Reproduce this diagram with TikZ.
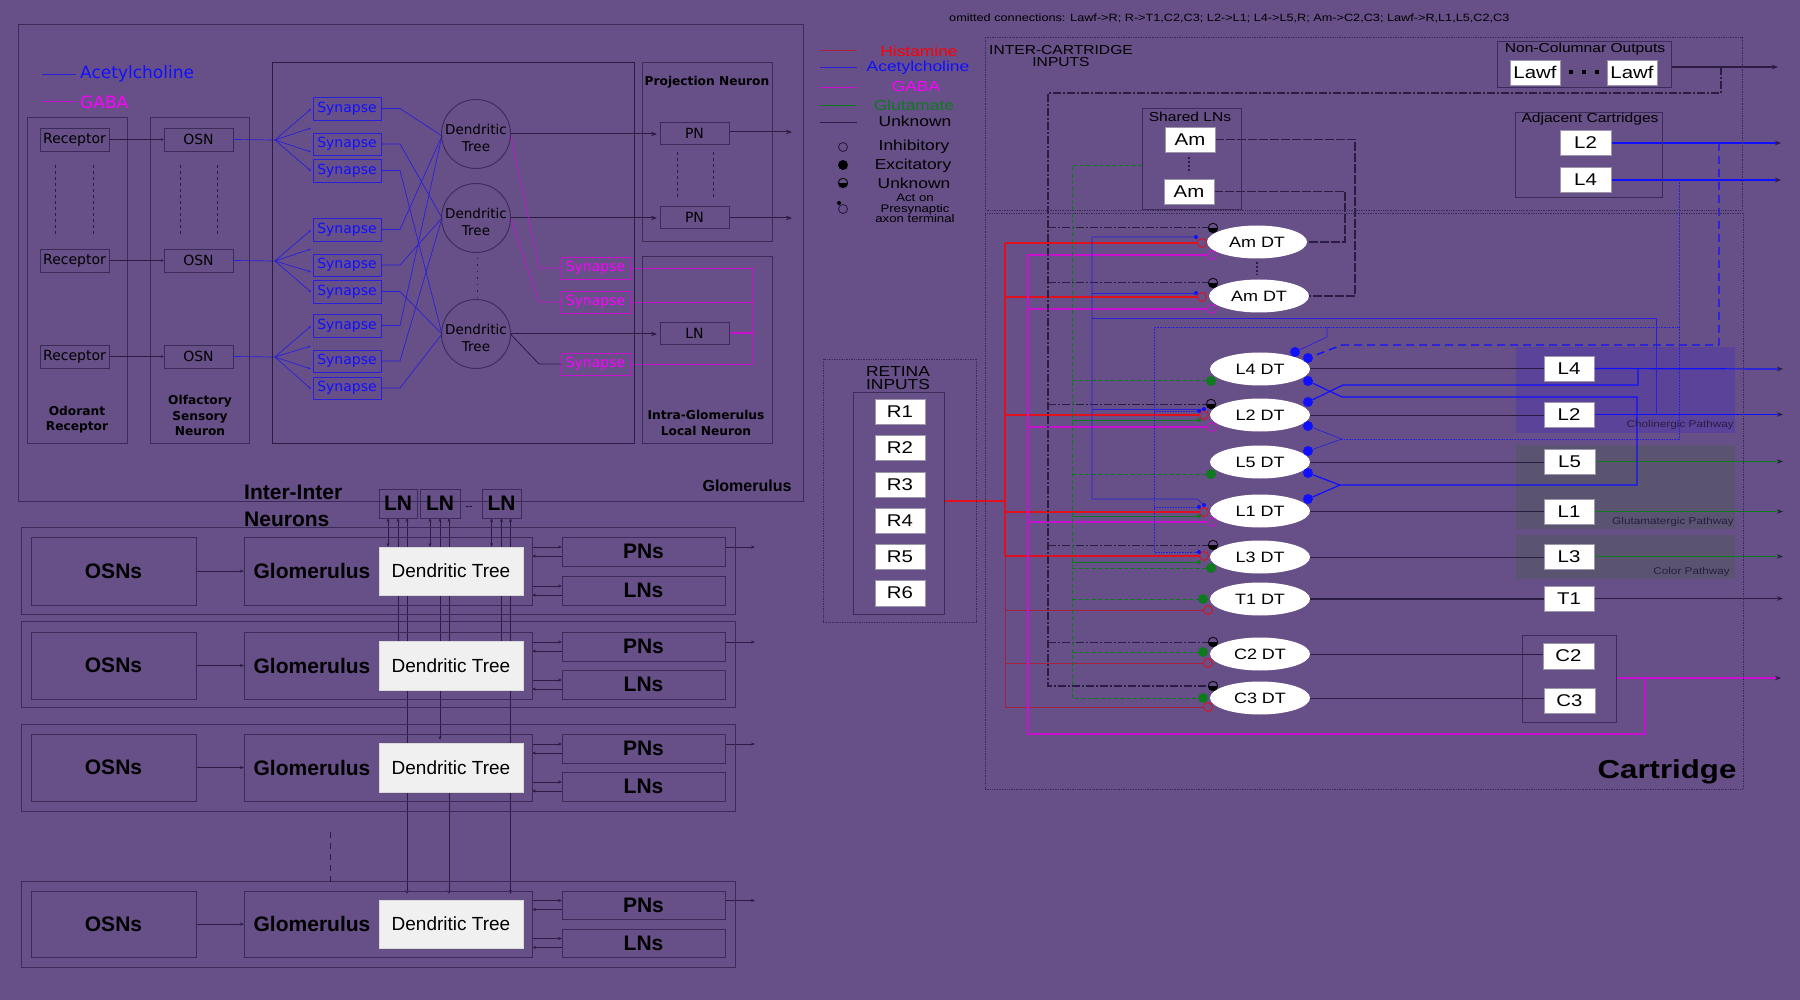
\documentclass[tikz,border=0pt]{standalone}
\usepackage{fontspec}
\setmainfont{Liberation Sans}
\newfontfamily\wide[FakeStretch=1.2]{Liberation Sans}
\newfontfamily\vera{DejaVu Sans}
\usetikzlibrary{arrows.meta,shapes.geometric}
\pgfdeclarelayer{back}\pgfdeclarelayer{mid}\pgfsetlayers{back,mid,main}
\definecolor{bgc}{HTML}{674F88}
\definecolor{framec}{HTML}{3B2B58}
\definecolor{linek}{HTML}{2A1C42}
\definecolor{bluec}{HTML}{2A20D8}
\definecolor{bluet}{HTML}{1010FF}
\definecolor{redc}{HTML}{E0101F}
\definecolor{redd}{HTML}{A8203F}
\definecolor{magc}{HTML}{C812D0}
\definecolor{magt}{HTML}{FF00FF}
\definecolor{gree}{HTML}{0E7A1E}
\definecolor{chol}{HTML}{5B4399}
\definecolor{glut}{HTML}{5A5470}
\newcommand{\fs}[1]{\fontsize{#1}{#1}\selectfont}
\newcommand{\fsl}[2]{\fontsize{#1}{#2}\selectfont}
\newcommand{\lw}[1]{\raisebox{-1pt}{#1}}
\newcommand{\bx}[7][]{\node[frame,#1,minimum width={(#5-#3)*1pt},minimum height={(#6-#4)*1pt}] (#2) at ({(#3+#5)/2},{(#4+#6)/2}) {#7};}
\tikzset{
 frame/.style={draw=framec,line width=0.9pt,inner sep=0pt,outer sep=0pt},
 dotf/.style={draw=framec,line width=0.7pt,densely dotted,inner sep=0pt,outer sep=0pt},
 whitebox/.style={draw=framec!50,line width=0.5pt,fill=white,text=black,inner sep=0pt,outer sep=0pt,font=\wide\fs{17}},
 glab/.style={inner sep=0pt,text=black,font=\bfseries\fs{21}},
 vbold/.style={inner sep=0pt,text=black,align=center,font=\vera\bfseries\fsl{12.2}{15.5}},
 wlab/.style={inner sep=0pt,text=black,align=center,font=\wide\fs{14.5}},
 lk/.style={draw=linek,line width=0.8pt},
 lkt/.style={draw=linek,line width=1.3pt},
 lb/.style={draw=bluec,line width=0.7pt},
 lbt/.style={draw=bluet,line width=1.2pt},
 lbd/.style={draw=bluec,line width=0.6pt,densely dotted},
 lbdash/.style={draw=bluet,line width=1.4pt,dash pattern=on 8pt off 5pt},
 lm/.style={draw=magc,line width=0.7pt},
 lmt/.style={draw=magc,line width=1.3pt},
 lr/.style={draw=redc,line width=1.5pt},
 lrd/.style={draw=redd,line width=0.8pt},
 lg/.style={draw=gree,line width=0.8pt},
 lgd/.style={draw=gree,line width=1pt,dash pattern=on 4pt off 2.5pt},
 kdd/.style={draw=linek,line width=1.2pt,dash pattern=on 8pt off 2pt on 2pt off 2pt},
 kda/.style={draw=linek,line width=1.3pt,dash pattern=on 9pt off 2pt},
 arr/.style={-{Stealth[length=6pt,width=4.5pt,color=linek]}},
 sarr/.style={-{Stealth[length=4pt,width=3pt,color=linek]}},
 barr/.style={-{Stealth[length=3pt,width=2.5pt]}},
 bsarr/.style={{Stealth[length=4pt,width=3pt]}-{Stealth[length=4pt,width=3pt]}},
 tarr/.style={{Stealth[length=4pt,width=3pt]}-},
 dtell/.style={ellipse,fill=white,text=black,inner sep=0pt,outer sep=0pt,minimum width=100pt,minimum height=33pt,font=\wide\fs{15}},
 inh/.style={circle,draw=#1,line width=0.9pt,inner sep=0pt,outer sep=0pt,minimum size=9pt},
 exc/.style={circle,fill=#1,inner sep=0pt,outer sep=0pt,minimum size=10pt},
 esm/.style={circle,fill=#1,inner sep=0pt,outer sep=0pt,minimum size=4pt},
 unkn/.style={circle,draw=black,line width=0.8pt,fill=bgc,inner sep=0pt,outer sep=0pt,minimum size=9.5pt,
   path picture={\fill[black] (path picture bounding box.west) rectangle (path picture bounding box.south east);}},
}
\begin{document}
\begin{tikzpicture}[x=1pt,y=-1pt]
\useasboundingbox (0,0) rectangle (1800,1000);
\begin{pgfonlayer}{back}
\fill[bgc] (0,0) rectangle (1800,1000);
\fill[chol] (1516,347) rectangle (1735,433);
\fill[glut] (1516,445) rectangle (1735,529);
\fill[glut] (1516,535) rectangle (1735,579);
\end{pgfonlayer}

%%% ---------- upper left: glomerulus
\bx{glombox}{18}{24}{803}{501}{}
\node[inner sep=0pt,text=black,font=\bfseries\fs{16}] (glomname) at (747,486) {Glomerulus};
\draw[lb] (42,74) -- (76,74);
\node[inner sep=0pt,anchor=west,text=bluet,font=\vera\fs{17}] (legach) at (80,74) {Acetylcholine};
\draw[lm] (42,101) -- (76,101);
\node[inner sep=0pt,anchor=west,text=magt,font=\vera\fs{17}] (leggaba) at (80,102) {GABA};
\bx{orbox}{27}{117}{127}{443}{}
\bx{osnbox}{150}{117}{249}{443}{}
\bx[draw=linek]{treebox}{272}{62}{634}{443}{}
\bx{pnbox}{642}{62}{772}{241}{}
\bx{lnbox}{642}{256}{772}{443}{}
\node[vbold] (orname) at (77,419.5) {Odorant\\Receptor};
\node[vbold] (osnname) at (200,415.5) {Olfactory\\Sensory\\Neuron};
\node[vbold] (pnname) at (707,82) {Projection Neuron};
\node[vbold] (lnname) at (706,423) {Intra-Glomerulus\\Local Neuron};
\foreach \i/\a/\b in {1/128/151,2/249/272,3/345/368}{
  \bx[font=\vera\fs{14}]{rec\i}{40}{\a}{109}{\b}{Receptor}
  \bx[font=\vera\fs{14}]{osn\i}{164}{\a}{233}{\b}{OSN}
  \draw[lk,barr] (rec\i) -- (osn\i);
}
\foreach \x in {55,93,180,217}{\draw[lk,dashed] (\x,165) -- (\x,237);}
\foreach \x in {677,713}{\draw[lk,dashed] (\x,152) -- (\x,198);}
\bx[font=\vera\fs{14}]{pn1}{660}{122}{729}{144}{PN}
\bx[font=\vera\fs{14}]{pn2}{660}{206}{729}{228}{PN}
\bx[font=\vera\fs{14}]{lnin}{660}{322}{729}{344}{LN}
\foreach \i/\a/\b in {1/97/120,2/133/155,3/159/182,4/218/241,5/254/276,6/280/303,7/314/337,8/350/372,9/377/399}{
  \bx[draw=bluec,text=bluet,font=\vera\fs{14}]{syn\i}{313}{\a}{381}{\b}{Synapse}
}
\foreach \i/\a/\b in {1/257/279,2/291/313,3/353/375}{
  \bx[draw=magc,text=magt,font=\vera\fs{14}]{msyn\i}{561}{\a}{630}{\b}{Synapse}
}
\foreach \i/\y in {1/134,2/218,3/334}{
  \node[circle,frame,minimum size=69pt] (dtree\i) at (476,\y) {};
  \node[inner sep=0pt,align=center,text=black,font=\vera\fsl{13.5}{17}] (dtext\i) at (476,\y+3.5) {Dendritic\\Tree};
}
\draw[linek,line width=1pt,dash pattern=on 1.5pt off 5pt] (477,258) -- (477,298);
\begin{pgfonlayer}{mid}
\foreach \f/\yy/\a/\b/\c/\d in {1/140/109/128/152/171,2/261/230/249/272/292,3/357/326/346/369/389}{
  \coordinate (fan\f) at (275,\yy);
  \draw[lb] (osn\f.east) -- (fan\f);
  \foreach \e in {\a,\b,\c,\d}{\draw[lb,barr] (fan\f) -- (311,\e);}
}
\coordinate (con1) at (442,136);\coordinate (con2) at (442,218);\coordinate (con3) at (442,334);
\foreach \s/\t in {1/1,2/2,3/3,4/1,5/2,6/3,7/1,8/2,9/3}{
  \draw[lb] (syn\s.east) -- ++(19,0) -- (con\t);
}
\draw[lk,line width=1pt,arr] (dtree1.east) -- ([xshift=-3pt]pn1.west |- dtree1.east);
\draw[lk,line width=1pt,arr] (dtree2.east) -- ([xshift=-3pt]pn2.west |- dtree2.east);
\draw[lk,line width=1pt,arr] (dtree3.east) -- ([xshift=-3pt]lnin.west |- dtree3.east);
\coordinate (pne1) at (792,132);\coordinate (pne2) at (792,218);
\draw[lk,line width=1pt,arr] (pn1.east |- pne1) -- (pne1);
\draw[lk,line width=1pt,arr] (pn2.east |- pne2) -- (pne2);
\draw[lm] (dtree1.east) -- ([xshift=-22pt]msyn1.west) -- (msyn1.west);
\draw[lm] (dtree2.east) -- ([xshift=-22pt]msyn2.west) -- (msyn2.west);
\draw[lk] (dtree3.east) -- ([xshift=-22pt]msyn3.west) -- (msyn3.west);
\coordinate (mbus) at (753,0);
\foreach \i in {1,2,3}{\draw[lm] (msyn\i.east) -- (mbus |- msyn\i.east);}
\draw[lm] (mbus |- msyn1.east) -- (mbus |- msyn3.east);
\draw[lmt] (lnin.east) -- (mbus |- lnin.east);
\end{pgfonlayer}

%%% ---------- lower left: rows
\node[glab,anchor=west] (ini1) at (244,492) {Inter-Inter};
\node[glab,anchor=west] (ini2) at (244,519) {Neurons};
\bx[font=\bfseries\fs{21},text=black]{lnt1}{379}{489}{417}{518}{LN}
\bx[font=\bfseries\fs{21},text=black]{lnt2}{420}{489}{460}{518}{LN}
\bx[font=\bfseries\fs{21},text=black]{lnt3}{482}{489}{521}{518}{LN}
\node[inner sep=0pt,text=black,font=\fs{10}] (lndots) at (469,508) {{-}{-}};
\foreach \r/\ot/\ob/\it/\ib/\dt/\db/\pt/\pb/\lt/\lb in {1/527/614/537/605/547/595/537/566/576/605,2/621/707/632/699/641/690/632/661/670/699,3/724/811/734/801/743/792/734/763/772/801,4/881/967/891/957/900/948/891/919/929/957}{
  \bx{outer\r}{21}{\ot}{735}{\ob}{}
  \bx[font=\bfseries\fs{21},text=black]{osns\r}{31}{\it}{196}{\ib}{\lw{OSNs}}
  \bx{glom\r}{244}{\it}{532}{\ib}{}
  \node[glab] (gl\r) at (312,{(\it+\ib)/2}) {Glomerulus};
  \bx[fill=black!6,draw=white!85!black,text=black,font=\fs{19}]{dtl\r}{379}{\dt}{523}{\db}{\lw{Dendritic Tree}}
  \bx[font=\bfseries\fs{21},text=black]{pns\r}{562}{\pt}{725}{\pb}{\lw{PNs}}
  \bx[font=\bfseries\fs{21},text=black]{lns\r}{562}{\lt}{725}{\lb}{\lw{LNs}}
  \coordinate (pa\r) at ([yshift=4.5pt]pns\r.west);
  \coordinate (pb\r) at ([yshift=-4.5pt]pns\r.west);
  \coordinate (la\r) at ([yshift=4.5pt]lns\r.west);
  \coordinate (lb\r) at ([yshift=-4.5pt]lns\r.west);
  \begin{pgfonlayer}{mid}
  \draw[lk,sarr] (osns\r) -- (glom\r);
  \draw[lk,sarr] (glom\r.east |- pa\r) -- (pa\r);
  \draw[lk,sarr] (pb\r) -- (glom\r.east |- pb\r);
  \draw[lk,sarr] (glom\r.east |- la\r) -- (la\r);
  \draw[lk,sarr] (lb\r) -- (glom\r.east |- lb\r);
  \draw[lk,sarr] (pns\r.east |- pa\r) -- ++(30,0);
  \end{pgfonlayer}
}
\draw[linek,line width=1pt,dash pattern=on 6pt off 5pt] (330,832) -- (330,884);
\begin{pgfonlayer}{mid}
\foreach \l in {1,2,3}{
  \coordinate (va\l) at ([xshift=-10pt]lnt\l.south);
  \coordinate (vb\l) at (lnt\l.south);
  \coordinate (vc\l) at ([xshift=9pt]lnt\l.south);
  \draw[lk,bsarr] (va\l) -- (va\l |- dtl1.north);
}
\foreach \l in {1,3}{
  \draw[lk,tarr] (vb\l) -- (vb\l |- dtl2.north);
  \draw[lk,bsarr,shorten >=6pt] (vc\l) -- (vc\l |- dtl4.north);
}
\draw[lk,bsarr,shorten >=3pt] (vb2) -- (vb2 |- dtl3.north);
\draw[lk,tarr] (vc2) -- (vc2 |- dtl2.north);
\draw[lk,sarr,shorten >=6pt] (vc2 |- dtl3.south) -- (vc2 |- dtl4.north);
\end{pgfonlayer}

%%% ---------- top text and legend
\node[inner sep=0pt,anchor=west,text=black,font=\wide\fs{10.57}] (omit) at (949,18.5) {omitted connections: Lawf->R; R->T1,C2,C3; L2->L1; L4->L5,R; Am->C2,C3; Lawf->R,L1,L5,C2,C3};
\draw[draw=redd,line width=0.8pt] (820,50) -- (857,50);
\draw[lb] (820,67) -- (857,67);
\draw[lm] (820,87) -- (857,87);
\draw[lg] (820,105) -- (857,105);
\draw[lk] (820,122) -- (857,122);
\node[wlab,text=red] (tHis) at (919,51) {Histamine};
\node[wlab,text=bluet] (tAch) at (918,68) {Acetylcholine};
\node[wlab,text=magt] (tGab) at (916,87) {GABA};
\node[wlab,text=gree] (tGlu) at (914,105) {Glutamate};
\node[wlab] (tUnk) at (915,121) {Unknown};
\node[inh=linek] (legi) at (843,147) {};
\node[exc=black] (lege) at (843,165) {};
\node[unkn] (legu) at (843,183) {};
\node[inh=linek] (lega) at (843,209) {};
\node[esm=black] (legb) at (839,203) {};
\node[wlab] (tInh) at (914,147) {Inhibitory};
\node[wlab] (tExc) at (913,166) {Excitatory};
\node[wlab] (tUn2) at (914,183) {Unknown};
\node[wlab,font=\wide\fsl{11}{10.5}] (tAct) at (915,208.5) {Act on\\Presynaptic\\axon terminal};

%%% ---------- retina
\bx[dotf]{retout}{823}{359}{976}{622}{}
\node[inner sep=0pt,align=center,text=black,font=\wide\fsl{14.5}{13}] (rettxt) at (898,378) {RETINA\\INPUTS};
\bx{retina}{853}{392}{944}{614}{}
\foreach \i/\a/\b in {1/399/424,2/435/460,3/472/497,4/508/533,5/544/569,6/580/606}{
  \bx[whitebox]{R\i}{875}{\a}{925}{\b}{R\i}
}

%%% ---------- inter-cartridge
\bx[dotf]{interbox}{985}{37}{1742}{210}{}
\node[inner sep=0pt,align=center,text=black,font=\wide\fsl{13}{12.5}] (intertxt) at (1061,56) {INTER-CARTRIDGE\\INPUTS};
\bx{sharedlns}{1142}{108}{1241}{209}{}
\node[inner sep=0pt,text=black,font=\wide\fs{13}] (sharedtxt) at (1190,117) {Shared LNs};
\bx[whitebox]{am1}{1165}{127}{1215}{152}{Am}
\bx[whitebox]{am2}{1164}{179}{1214}{204}{Am}
\draw[linek,line width=2pt,dotted] (1189,157) -- (1189,173);
\bx{lawfbox}{1497}{41}{1671}{87}{}
\node[inner sep=0pt,text=black,font=\wide\fs{13}] (lawftxt) at (1585,49) {Non-Columnar Outputs};
\bx[whitebox]{lawf1}{1510}{60}{1560}{85}{Lawf}
\bx[whitebox]{lawf2}{1607}{60}{1657}{85}{Lawf}
\foreach \x in {1571,1584,1597}{\fill[black] (\x-2,70) rectangle (\x+2,74);}
\bx{adjbox}{1515}{112}{1662}{197}{}
\node[inner sep=0pt,text=black,font=\wide\fs{13}] (adjtxt) at (1590,119.5) {Adjacent Cartridges};
\bx[whitebox]{adj2}{1560}{130}{1611}{155}{L2}
\bx[whitebox]{adj4}{1560}{167}{1611}{192}{L4}

%%% ---------- cartridge
\bx[dotf]{cartbox}{985}{213}{1743}{789}{}
\node[inner sep=0pt,text=black,font=\wide\bfseries\fs{26}] (carttxt) at (1667,772) {Cartridge};
\node[dtell] (dam1) at (1257,242) {Am DT};
\node[dtell] (dam2) at (1259,296) {Am DT};
\draw[linek,line width=2pt,dotted] (1257,262) -- (1257,275);
\node[dtell] (dL4) at (1260,369) {L4 DT};
\node[dtell] (dL2) at (1260,415) {L2 DT};
\node[dtell] (dL5) at (1260,462) {L5 DT};
\node[dtell] (dL1) at (1260,511) {L1 DT};
\node[dtell] (dL3) at (1260,557) {L3 DT};
\node[dtell] (dT1) at (1260,599) {T1 DT};
\node[dtell] (dC2) at (1260,654) {C2 DT};
\node[dtell] (dC3) at (1260,698) {C3 DT};
\bx[whitebox]{oL4}{1544}{356}{1594}{381}{L4}
\bx[whitebox]{oL2}{1544}{402}{1594}{427}{L2}
\bx[whitebox]{oL5}{1544}{449}{1595}{474}{L5}
\bx[whitebox]{oL1}{1544}{499}{1594}{524}{L1}
\bx[whitebox]{oL3}{1544}{544}{1594}{569}{L3}
\bx[whitebox]{oT1}{1544}{586}{1594}{611}{T1}
\bx{cbox}{1522}{635}{1616}{722}{}
\bx[whitebox]{oC2}{1543}{643}{1594}{669}{C2}
\bx[whitebox]{oC3}{1544}{688}{1595}{713}{C3}
\node[inner sep=0pt,anchor=east,text=linek,font=\wide\fs{9.8}] (pch) at (1734,425) {Cholinergic Pathway};
\node[inner sep=0pt,anchor=east,text=linek,font=\wide\fs{9.8}] (pgl) at (1734,522) {Glutamatergic Pathway};
\node[inner sep=0pt,anchor=east,text=linek,font=\wide\fs{9.8}] (pco) at (1730,572) {Color Pathway};

%%% markers
\foreach \n/\x/\y in {uA/1213/228,uB/1213/283,uL2/1211/404,uL3/1213/545,uC2/1213/642,uC3/1213/686}{\node[unkn] (\n) at (\x,\y) {};}
\foreach \n/\x/\y in {rA/1202/243,rB/1202/297,rL2/1204/415,rL1/1204/512,rL3/1204/556,rT1/1208/610,rC2/1208/663,rC3/1208/707}{\node[inh=redc] (\n) at (\x,\y) {};}
\foreach \n/\x/\y in {mA/1212/255,mB/1212/309,mL2/1212/427,mL1/1212/522}{\node[inh=magc] (\n) at (\x,\y) {};}
\foreach \n/\x/\y in {gL4/1211/381,gL5/1211/474,gL3/1211/568,gT1/1203/599,gC2/1203/652,gC3/1203/698}{\node[exc=gree] (\n) at (\x,\y) {};}
\foreach \n/\x/\y in {sgL2/1199/420,sgL1/1199/516,sgL3/1199/562}{\node[esm=gree] (\n) at (\x,\y) {};}
\foreach \n/\x/\y in {sbA/1196/237,sbB/1196/293,sbL2/1204/409,sdL2/1199/411,sbL1/1204/505,sdL1/1199/507,sdL3/1199/552}{\node[esm=bluet] (\n) at (\x,\y) {};}
\foreach \n/\x/\y in {b1/1295/352,b2/1308/358,b3/1308/381,b4/1308/402,b5/1308/426,b6/1308/451,b7/1308/473,b8/1308/499}{\node[exc=bluet] (\n) at (\x,\y) {};}

\begin{pgfonlayer}{mid}
% outputs
\foreach \c in {L4,L2,L5,L1,L3,C2,C3}{\draw[lk,line width=1pt] (d\c.east) -- (d\c.east -| o\c.west);}
\draw[lkt] (dT1.east) -- (dT1.east -| oT1.west);
\coordinate (eL4) at (1783,369);\coordinate (eL2) at (1783,414.5);\coordinate (eL5) at (1783,461.5);
\coordinate (eL1) at (1783,511.5);\coordinate (eL3) at (1783,556.5);\coordinate (eT1) at (1783,598.5);
\coordinate (eC) at (1781,678);
\draw[lbt,arr] (oL4.east) -- (eL4);
\draw[lbt,arr] (oL2.east) -- (eL2);
\draw[lg,arr] (oL5.east) -- (eL5);
\draw[lg,arr] (oL1.east) -- (eL1);
\draw[lg,line width=1.1pt,arr] (oL3.east) -- (eL3);
\draw[lkt,arr] (oT1.east) -- (eT1);
\coordinate (eadj2) at (1781,143);\coordinate (eadj4) at (1781,180);\coordinate (elawf) at (1778,67);
\draw[lbt,arr] (adj2.east |- eadj2) -- (eadj2);
\draw[lbt,arr] (adj4.east |- eadj4) -- (eadj4);
\draw[lkt,line width=1.5pt,arr] (lawfbox.east |- elawf) -- (elawf);
% red
\coordinate (bR) at (1005,0);\coordinate (bM) at (1028,0);\coordinate (bK) at (1048,0);
\coordinate (bG) at (1072,0);\coordinate (bB) at (1092,0);\coordinate (bD) at (1154,0);
\coordinate (rj) at (1005,501);
\draw[lr] (retina.east |- rj) -- (rj);
\draw[lr] (bR |- rA) -- (rA);
\draw[lr,line width=1.2pt] (bR |- rB) -- (rB);
\foreach \n in {rL2,rL1,rL3}{\draw[lr] (bR |- \n) -- (\n);}
\draw[lr] (bR |- rA) -- (bR |- rL3);
\draw[lrd] (bR |- rL3) -- (bR |- rC3) -- (rC3);
\draw[lrd] (bR |- rT1) -- (rT1);
\draw[lrd] (bR |- rC2) -- (rC2);
% magenta
\coordinate (mj) at (1645,734);\coordinate (mo) at (1645,678);
\draw[lm,line width=1.1pt] (mA) -- (bM |- mA) -- (bM |- mj) -- (mj) -- (mo);
\foreach \n in {mB,mL2,mL1}{\draw[lm,line width=1.1pt] (bM |- \n) -- (\n);}
\draw[lmt,arr] (cbox.east |- eC) -- (eC);
% black dash-dot
\coordinate (kj) at (1721,67);\coordinate (ktop) at (1048,93);
\draw[kdd] (kj) -- (kj |- ktop) -- (bK |- ktop) -- (bK |- uC3) -- (uC3);
\foreach \n in {uA,uB,uL2,uL3,uC2}{\draw[kdd,line width=1pt] (bK |- \n) -- (\n);}
% black dashed from Am
\coordinate (amj1) at (1355,0);\coordinate (amj2) at (1345,0);
\draw[kda] (am1.east) -- (amj1 |- am1.east) -- (amj1 |- dam2.east) -- (dam2.east);
\draw[kda] (am2.east) -- (amj2 |- am2.east) -- (amj2 |- dam1.east) -- (dam1.east);
% green
\coordinate (gs) at (1142,166);
\draw[lgd] (sharedlns.west |- gs) -- (bG |- gs) -- (bG |- gC3) -- (gC3);
\foreach \n in {gL4,gL5,gL3,gT1,gC2}{\draw[lgd] (bG |- \n) -- (\n);}
\foreach \n in {sgL2,sgL1,sgL3}{\draw[lg] (bG |- \n) -- (\n);}
% blue solid thin
\coordinate (l2up) at (1656,414.5);\coordinate (by) at (1092,318);\coordinate (bj) at (1197,499);
\draw[lb] (l2up) -- (l2up |- by) -- (by);
\draw[lb] (sbA) -- (bB |- sbA) -- (bB |- bj) -- (bj) -- (sbL1);
\draw[lb] (bB |- sbB) -- (sbB);
\draw[lb] (bB |- sbL2) -- (sbL2);
% blue dotted thin
\coordinate (a4j) at (1679,180);\coordinate (dy) at (1154,327);\coordinate (dj) at (1342,439);\coordinate (dk) at (1327,337);
\draw[lbd] (a4j) -- (a4j |- dy) -- (bD |- dy) -- (bD |- sdL3) -- (sdL3);
\draw[lbd] (bD |- sdL2) -- (sdL2);
\draw[lbd] (bD |- sdL1) -- (sdL1);
\draw[lbd] (a4j |- dy) -- (a4j |- dj) -- (dj);
\draw[lb] (dk |- dy) -- (dk) -- (b1);
\draw[lb] (dj) -- (b5);
\draw[lb] (dj) -- (b6);
% blue dashed
\coordinate (dsh) at (1719,143);\coordinate (dsk) at (1342,345);
\draw[lbdash] (dsh) -- (dsh |- dsk) -- (dsk) -- (b2);
% blue thick
\coordinate (t1a) at (1638,369);\coordinate (t1b) at (1343,385);
\draw[lbt] (t1a) -- (t1a |- t1b) -- (t1b) -- (b4);
\coordinate (t2a) at (1342,397);\coordinate (t2b) at (1637,485);\coordinate (t2c) at (1340,485);
\draw[lbt] (b3) -- (t2a) -- (t2b |- t2a) -- (t2b) -- (t2c) -- (b7);
\draw[lbt] (t2c) -- (b8);
\end{pgfonlayer}
\end{tikzpicture}
\end{document}
